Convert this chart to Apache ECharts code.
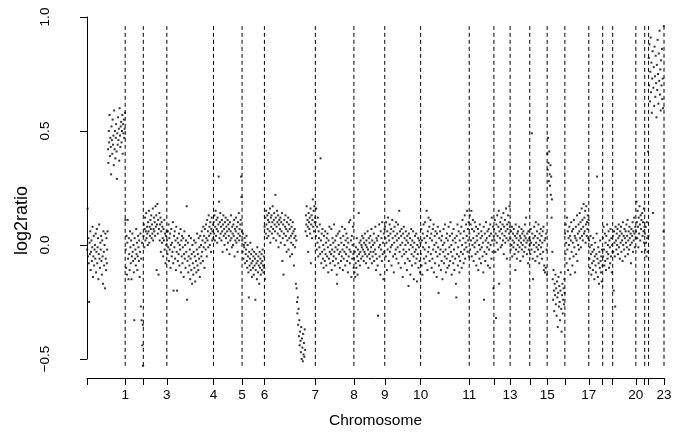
<!DOCTYPE html>
<html><head><meta charset="utf-8">
<script src="https://cdn.jsdelivr.net/npm/echarts@6/dist/echarts.min.js"></script>
<style>html,body{margin:0;padding:0;background:#fff}#c{width:682px;height:434px}</style>
</head><body><div id="c"></div>
<script>
const chromosomeNames = ['1','2','3','4','5','6','7','8','9','10','11','12','13','14','15','16','17','18','19','20','21','22','23'];
const labelledChromosomes = ['1','3','4','5','6','7','8','9','10','11','13','15','17','20','23'];
const yTicks = [-0.5, 0.0, 0.5, 1.0];

const chr1 = [
-0.02,0.16,-0.05,0.03,-0.08,-0.25,0.01,-0.04,0.06,-0.11,
-0.03,0.02,-0.07,-0.01,0.08,-0.14,-0.05,0.04,-0.09,-0.02,
0.00,-0.06,0.05,-0.12,-0.03,0.07,-0.08,-0.01,0.03,-0.15,
-0.04,0.09,-0.06,-0.10,0.01,-0.02,0.04,-0.07,-0.13,0.02,
-0.05,-0.17,0.06,-0.03,-0.09,0.00,-0.19,0.05,-0.06,-0.11,
0.03,-0.08,-0.02,0.06,
0.42,0.36,0.50,0.45,0.57,0.39,0.47,0.43,0.31,0.52,
0.46,0.40,0.55,0.44,0.48,0.35,0.59,0.42,0.50,0.38,
0.47,0.53,0.41,0.29,0.49,0.44,0.56,0.46,0.51,0.37,
0.60,0.48,0.43,0.52,0.54,0.45,0.50,0.57,0.40,0.53,
0.49,0.55,0.47,0.51,0.58];
const chr2 = [
0.11,-0.02,-0.10,0.04,-0.13,0.01,0.11,-0.06,-0.15,0.03,
-0.04,-0.11,0.06,-0.01,-0.08,0.02,-0.15,-0.05,0.05,-0.03,
-0.07,0.00,-0.12,-0.33,0.03,-0.06,-0.02,-0.09,0.07,-0.04,
0.01,-0.11,-0.05,0.04,-0.01,-0.07,0.02,-0.14,-0.03,0.05,
-0.27,-0.06,-0.33,0.01,-0.44,-0.35,-0.53];
const chr3 = [
0.04,0.09,-0.01,0.07,0.12,0.02,0.06,0.14,0.03,0.08,
0.05,0.00,0.10,0.06,0.15,0.01,0.08,0.04,0.11,0.07,
0.13,0.03,0.09,0.05,0.16,0.02,0.07,0.12,0.06,0.10,
0.04,0.17,0.08,0.13,-0.11,0.09,0.18,0.05,0.11,-0.13,
0.07,0.14,0.02,0.09,0.12,-0.03,0.06,0.10,0.01,0.08,
0.03,-0.05,0.07,0.02,0.11,-0.02,0.05,-0.08,0.04,0.00,
0.06];
const chr4 = [
0.02,-0.04,0.06,-0.01,0.09,-0.07,0.03,-0.02,0.05,-0.10,
0.00,0.07,-0.05,0.01,-0.03,0.10,-0.08,-0.20,0.04,-0.01,
0.06,-0.06,0.02,-0.11,0.08,-0.03,-0.20,0.03,-0.07,0.01,
-0.04,0.05,-0.09,0.00,-0.02,0.07,-0.12,0.02,-0.05,0.04,
-0.08,-0.01,0.03,-0.14,-0.04,0.06,-0.06,0.00,-0.10,0.02,
-0.03,0.17,-0.24,-0.07,0.01,-0.12,-0.05,0.04,-0.09,-0.02,
-0.15,-0.06,0.03,-0.11,-0.04,-0.17,0.00,-0.08,-0.13,-0.03,
0.02,-0.10,-0.05,-0.16,0.01,-0.07,-0.12,-0.02,0.05,-0.09,
-0.04,-0.11,0.03,-0.06,-0.01,-0.14,0.04,-0.08,0.00,-0.05,
0.06,-0.03,0.02,-0.07,0.08,-0.01,0.04,-0.10,0.07,0.01,
-0.02,0.09,0.03,-0.05,0.11,0.02,0.06,-0.01,0.13,0.04,
0.08,0.00,0.10,0.05,-0.03,0.07,0.12,0.02,0.06,0.09,
0.03];
const chr5 = [
0.10,0.05,0.13,0.02,0.08,0.15,0.04,0.11,0.07,0.01,
0.12,0.06,0.09,0.30,0.19,0.03,0.10,0.14,0.05,0.08,
0.02,0.11,0.06,-0.03,0.09,0.13,0.04,0.07,0.00,0.10,
0.05,0.12,0.03,0.08,-0.02,0.06,0.11,0.01,0.09,0.04,
0.07,-0.04,0.10,0.02,0.06,0.13,0.03,-0.01,0.08,0.05,
0.00,0.09,0.04,0.11,-0.05,0.07,0.02,0.06,0.12,0.01,
0.08,0.03,-0.03,0.10,0.05,0.14,0.02,0.07,0.04,0.09,
0.11,0.30,0.21,0.06];
const chr6 = [
0.02,-0.03,0.05,-0.06,0.00,-0.01,0.03,-0.08,0.01,-0.04,
-0.02,0.04,-0.07,-0.10,0.00,-0.05,-0.12,-0.23,-0.03,-0.09,
-0.06,0.01,-0.11,-0.04,-0.08,-0.14,-0.02,-0.07,-0.10,-0.05,
-0.13,-0.03,-0.09,-0.06,-0.24,-0.11,-0.04,-0.08,-0.15,-0.01,
-0.07,-0.12,-0.05,-0.09,-0.17,-0.03,-0.10,-0.06,-0.13,-0.08,
-0.04,-0.11,-0.07,-0.02,-0.09,-0.12,-0.05,-0.10];
const chr7 = [
0.08,-0.15,0.12,0.05,0.15,0.09,0.03,0.13,0.07,0.11,
0.04,0.14,0.10,0.06,0.16,0.01,0.12,0.08,0.13,0.05,
0.10,0.17,0.07,0.03,0.11,0.14,0.09,0.06,0.22,0.12,
0.02,0.08,0.15,0.10,0.05,0.13,-0.01,0.09,0.11,0.04,
0.07,0.12,0.01,0.10,0.06,0.14,-0.07,0.03,0.09,-0.13,
0.05,0.11,0.00,0.08,0.13,0.04,0.07,-0.03,0.10,0.02,
0.06,0.12,-0.02,0.09,0.03,0.07,-0.05,0.11,0.04,0.01,
0.08,-0.04,0.05,0.10,0.00,0.06,-0.09,0.03,0.07,-0.01,
0.04,-0.17,0.02,
-0.19,-0.25,-0.30,-0.23,-0.35,-0.28,-0.40,-0.33,-0.44,-0.38,
-0.42,-0.47,-0.36,-0.50,-0.41,-0.45,-0.51,-0.39,-0.48,-0.43,
-0.49,-0.37,-0.46,
0.06,0.13,0.09,0.17,0.04,0.11,0.08,-0.03,0.14,0.10,
0.07,0.12,0.05,0.16,-0.08,0.09,0.13,0.03,0.11,0.20,
0.08,0.15,0.06,0.17,0.10,0.12];
const chr8 = [
0.10,0.04,0.16,-0.02,0.08,0.01,0.12,-0.05,0.06,0.03,
-0.01,0.09,-0.04,0.38,0.02,-0.08,0.05,-0.03,0.07,-0.06,
0.00,-0.10,0.04,-0.02,-0.07,0.06,-0.04,0.01,-0.09,0.03,
-0.05,0.05,-0.01,-0.12,0.02,-0.06,0.08,-0.03,-0.08,0.00,
-0.04,0.07,-0.11,-0.02,0.03,-0.07,0.01,-0.05,0.09,-0.03,
-0.09,0.02,-0.01,-0.06,0.04,-0.13,-0.17,-0.02,0.05,-0.08,
0.00,-0.04,0.06,-0.10,-0.03,0.03,-0.07,0.01,-0.05,0.08,
-0.02,-0.11,0.04,-0.06,0.00,-0.03,0.07,-0.09,0.02,-0.04,
0.05,-0.01,-0.07,0.03,-0.12,0.01,-0.05,0.10,-0.02,-0.08,
0.11,-0.03,0.02,-0.14,0.04,-0.06,0.00,0.08,-0.04,-0.10];
const chr9 = [
-0.06,-0.12,-0.03,-0.14,-0.08,-0.01,-0.10,0.03,-0.05,-0.13,
-0.02,-0.07,0.14,-0.04,0.01,-0.09,-0.03,0.02,-0.06,0.00,
-0.01,0.04,-0.05,-0.02,0.03,-0.07,0.01,-0.03,0.05,-0.04,
0.00,-0.08,0.02,-0.01,-0.05,0.06,-0.02,-0.10,0.03,-0.04,
0.01,-0.06,0.04,-0.03,-0.01,0.07,-0.08,0.02,-0.05,0.00,
-0.03,0.05,-0.07,0.01,-0.02,0.08,-0.04,-0.11,0.03,-0.06,
0.02,-0.09,-0.31,0.04,-0.01,0.09,-0.05,0.00,-0.13,0.06,
-0.02,0.03,-0.07,0.10,-0.04,0.01,-0.15,0.05,-0.03,0.07];
const chr10 = [
0.08,0.03,-0.05,0.10,0.01,-0.11,0.06,-0.02,0.12,0.04,
-0.07,0.02,0.09,-0.03,0.05,-0.01,0.07,-0.09,0.00,0.11,
0.03,-0.05,0.06,-0.12,0.01,0.08,-0.04,0.04,-0.02,0.10,
-0.06,0.02,0.05,-0.01,0.09,-0.08,0.03,0.15,-0.03,0.06,
0.00,-0.10,0.04,0.07,-0.05,0.01,-0.14,0.05,-0.02,0.08,
-0.04,0.03,-0.08,0.00,0.06,-0.03,0.02,-0.11,0.04,-0.06,
0.01,-0.18,0.05,-0.02,-0.07,0.03,-0.13,0.00,0.07,-0.04,
-0.09,0.02,-0.01,0.06,-0.05,-0.15,0.01,-0.03,0.04,-0.08,
-0.02,0.05,-0.06,-0.16,0.00,-0.04,0.03,-0.10,-0.01,0.02,
-0.07,-0.12,0.01];
const chr11 = [
-0.04,0.07,-0.09,0.02,-0.13,0.05,-0.01,0.09,-0.06,0.03,
-0.02,0.10,-0.08,0.01,-0.05,0.15,0.04,-0.11,0.06,-0.03,
0.12,-0.01,0.08,-0.07,0.03,0.11,-0.04,0.05,-0.10,0.02,
-0.06,0.07,-0.02,0.09,-0.12,0.00,0.04,-0.08,0.06,-0.03,
0.01,-0.14,0.05,-0.05,0.08,-0.01,-0.21,-0.09,0.03,-0.04,
0.06,-0.02,-0.11,0.02,-0.07,0.04,-0.15,0.00,-0.03,0.07,
-0.08,0.01,-0.05,0.09,-0.02,-0.12,0.03,-0.06,0.05,-0.10,
0.02,-0.04,0.08,-0.09,-0.01,0.04,-0.07,0.10,-0.03,0.00,
-0.13,0.05,-0.05,0.02,-0.08,0.07,-0.02,-0.11,0.03,-0.06,
0.01,-0.17,-0.23,0.04,-0.04,0.09,-0.09,-0.01,0.06,-0.05,
-0.12,0.02,-0.07,0.05,-0.03,0.08,-0.10,0.00,0.11,-0.04,
0.03,-0.08,0.06,-0.02,0.13,-0.06,0.01,0.09,-0.01,0.04,
0.15,-0.03,0.07,0.02,0.10,-0.05];
const chr12 = [
0.05,0.13,-0.02,0.09,0.02,0.15,-0.05,0.07,0.00,0.11,
0.03,-0.07,0.06,-0.01,0.10,0.01,-0.04,0.08,-0.09,0.04,
0.02,-0.03,0.07,-0.11,0.05,0.00,-0.06,0.09,-0.02,0.03,
-0.08,0.06,-0.01,0.04,-0.05,0.01,-0.12,0.08,-0.24,-0.03,
0.05,-0.07,0.02,0.10,-0.04,0.03,-0.01,0.06,-0.09,0.01,
0.07,-0.02,0.04,-0.10,0.09,0.00,0.05,-0.06,0.12,0.02,
-0.03,0.08,-0.19,0.04];
const chr13 = [
0.07,0.02,0.11,-0.03,0.05,-0.32,0.09,0.01,0.13,0.04,
-0.02,0.08,0.15,-0.17,0.06,0.03,0.10,-0.01,0.07,0.12,
0.00,0.05,0.09,0.02,0.14,-0.04,0.08,0.04,0.11,0.01,
0.06,0.16,0.03,-0.06,0.09,0.07,0.13,0.02,0.10,0.05,
0.17,0.08];
const chr14 = [
0.03,-0.02,0.06,0.00,0.08,-0.05,0.02,0.05,-0.01,0.07,
0.01,-0.04,0.04,-0.11,0.09,-0.02,0.03,-0.06,0.05,0.00,
0.06,-0.03,0.02,0.08,-0.01,0.04,-0.07,0.03,0.01,0.07,
-0.02,0.05,0.00,-0.05,0.06,0.02,-0.03,0.04,0.09,-0.01,
0.03,0.12,0.01,-0.04,0.05,0.02,-0.08,0.06,-0.02,0.03,
0.00];
const chr15 = [
0.02,-0.04,0.07,0.01,-0.02,0.49,0.05,-0.06,-0.15,0.03,
0.00,0.08,-0.03,0.04,-0.07,0.10,0.01,-0.01,0.06,-0.05,
0.03,-0.02,0.09,0.00,-0.08,0.05,0.02,-0.04,0.07,-0.01,
0.04,-0.06,0.01,0.06,-0.03,0.08,-0.11,-0.09,0.02,-0.12,
0.03,-0.10,0.05,-0.02,-0.13];
const chr16 = [
0.40,0.33,0.47,0.36,0.28,0.41,0.31,0.26,0.35,0.22,
0.30,0.12,0.20,-0.03,
-0.15,-0.24,-0.11,-0.20,-0.29,-0.17,-0.22,-0.13,-0.26,-0.19,
-0.31,-0.16,-0.23,-0.36,-0.21,-0.14,-0.27,-0.18,-0.25,-0.33,
-0.20,-0.12,-0.28,-0.38,-0.22,-0.17,-0.30,-0.24,-0.19,-0.26,
-0.15,-0.21];
const chr17 = [
0.05,-0.04,0.09,0.01,-0.08,0.12,-0.02,0.06,-0.11,0.03,
0.00,0.08,-0.06,0.04,-0.13,0.02,0.10,-0.03,0.06,-0.09,
0.01,0.07,-0.05,0.11,-0.01,0.04,-0.12,0.03,0.08,-0.04,
0.02,0.13,-0.07,0.05,0.00,0.09,-0.02,0.06,0.14,0.03,
0.10,-0.01,0.07,0.16,0.04,0.11,0.02,0.08,0.18,0.05,
0.12,0.06,0.15,0.01,0.09,0.17,0.04,0.10,0.07,0.13,
0.03,0.11];
const chr18 = [
0.02,-0.06,-0.01,-0.10,0.04,-0.04,-0.13,0.00,-0.08,-0.03,
-0.11,0.03,-0.07,-0.02,-0.15,-0.05,0.01,-0.09,-0.12,-0.04,
0.05,0.30,-0.06,-0.14,-0.01,-0.08,-0.17,-0.03,-0.10,0.02,
-0.07,-0.12,-0.05,-0.16,-0.02,-0.09];
const chr19 = [
0.03,-0.05,0.08,-0.02,-0.09,0.05,-0.07,0.01,-0.11,0.04,
-0.03,0.09,-0.06,0.00,-0.04,0.06,-0.10,0.02,-0.01,-0.08,
0.07,-0.05,0.03,-0.12,0.00,-0.03];
const chr20 = [
0.04,-0.03,-0.20,0.06,0.01,-0.05,-0.27,0.08,0.02,-0.02,
0.05,0.00,0.07,-0.04,0.03,0.09,-0.01,0.04,-0.06,0.06,
0.01,0.08,-0.03,0.05,0.02,-0.07,0.10,0.00,0.04,-0.02,
0.07,0.03,-0.05,0.06,0.01,0.09,-0.01,0.04,0.11,-0.04,
0.02,0.06,-0.02,0.08,0.03,0.00,0.05,-0.08,0.07,0.01,
0.04,0.10,-0.03,0.06,0.02,0.12,0.05,-0.01,0.08,0.03];
const chr21 = [
0.06,0.19,0.10,0.03,0.15,0.08,-0.01,0.12,0.05,0.17,
0.09,0.02,0.13,0.07,0.11,-0.03,0.14,0.04,0.10,0.06,
0.16,0.01,0.08];
const chr22 = [0.05,-0.02,0.08,0.01,-0.05,0.10,0.03,-0.03,0.41,0.04];
const chr23 = [
0.82,0.70,0.88,0.63,0.76,0.91,0.67,0.80,0.58,0.73,
0.85,0.14,0.69,0.78,0.61,0.87,0.74,0.65,0.83,0.71,
0.56,0.79,0.68,0.90,0.75,0.62,0.84,0.72,0.94,0.66,
0.77,0.59,0.81,0.70,0.86,0.64,0.73,0.60,0.06,0.96];

const log2ratioByChromosome = [chr1,chr2,chr3,chr4,chr5,chr6,chr7,chr8,chr9,chr10,chr11,chr12,
  chr13,chr14,chr15,chr16,chr17,chr18,chr19,chr20,chr21,chr22,chr23];

// probe index along the genome -> x; chromosome ends are cumulative probe counts
const points = [];
const ends = [0];
let pos = 0;
log2ratioByChromosome.forEach(vals => {
  vals.forEach(v => { points.push([pos + 0.5, v]); pos++; });
  ends.push(pos);
});
const total = pos;
const ys = points.map(p => p[1]);
const yMin = Math.min(...ys), yMax = Math.max(...ys);
const nameAt = {};
chromosomeNames.forEach((n, i) => { nameAt[ends[i + 1]] = n; });
const labelValues = labelledChromosomes.map(n => ends[chromosomeNames.indexOf(n) + 1]);
// vertical separators from min to max of the data at each chromosome end
const separators = [];
ends.slice(1).forEach(x => { separators.push([x, yMin], [x, yMax], [x, '-']); });

const font = '"Liberation Sans", Arial, Helvetica, sans-serif';
const chart = echarts.init(document.getElementById('c'), null, {renderer: 'canvas'});
chart.setOption({
  animation: false,
  backgroundColor: '#fff',
  grid: {left: 87, top: 17, width: 577, height: 345, containLabel: false},
  xAxis: {
    type: 'value', min: 0, max: total, position: 'bottom', offset: 19,
    axisLine: {show: true, onZero: false, lineStyle: {color: '#000', width: 1}},
    axisTick: {show: true, length: 7, customValues: ends, lineStyle: {color: '#000', width: 1}},
    axisLabel: {show: true, customValues: labelValues, formatter: v => nameAt[v] || '',
      margin: 10, fontSize: 13.5, color: '#000', fontFamily: font},
    splitLine: {show: false},
    name: 'Chromosome', nameLocation: 'middle', nameGap: 35,
    nameTextStyle: {fontSize: 15.5, color: '#000', fontFamily: font}
  },
  yAxis: {
    type: 'value', min: yTicks[0], max: yTicks[yTicks.length - 1], interval: 0.5, offset: 24,
    axisLine: {show: true, lineStyle: {color: '#000', width: 1}},
    axisTick: {show: true, length: 7, lineStyle: {color: '#000', width: 1}},
    axisLabel: {rotate: 90, margin: 11, fontSize: 13.5, color: '#000', fontFamily: font,
      formatter: v => (v < 0 ? '\u2212' : '') + Math.abs(v).toFixed(1)},
    splitLine: {show: false}
  },
  graphic: [{
    type: 'text', left: 13, top: 186, rotation: Math.PI / 2,
    style: {text: 'log2ratio', fontSize: 18, fill: '#000', fontFamily: font}
  }],
  series: [{
    type: 'scatter', data: points, symbol: 'rect', symbolSize: 2, clip: false, silent: true,
    itemStyle: {color: '#000'}, z: 3
  }, {
    type: 'line', data: separators, showSymbol: false, connectNulls: false, clip: false, silent: true,
    lineStyle: {color: '#000', width: 1, type: [4, 3]}, z: 2
  }]
});
</script></body></html>
